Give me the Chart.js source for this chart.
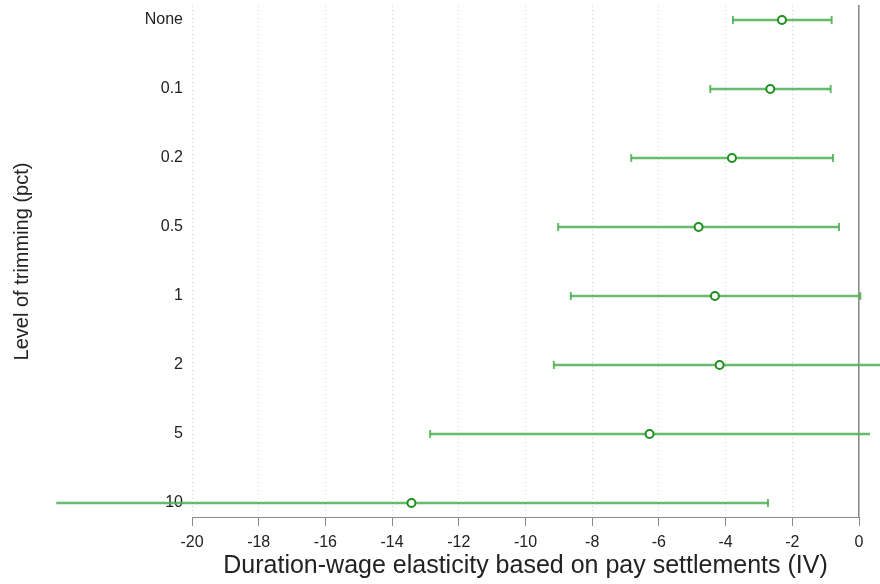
<!DOCTYPE html>
<html>
<head>
<meta charset="utf-8">
<script src="https://cdn.jsdelivr.net/npm/chart.js@4"></script>
<style>
html,body{margin:0;padding:0;background:#fff;}
#wrap{width:880px;height:584px;}
</style>
</head>
<body>
<div id="wrap"><canvas id="c" width="880" height="584"></canvas></div>
<script>
const categories = ['None', '0.1', '0.2', '0.5', '1', '2', '5', '10'];
const estimates = [-2.31, -2.66, -3.81, -4.81, -4.32, -4.18, -6.28, -13.42];
const lowerCI = [-3.78, -4.46, -6.83, -9.02, -8.64, -9.15, -12.86, -24.06];
const upperCI = [-0.82, -0.85, -0.78, -0.60, 0.04, 0.80, 0.32, -2.73];
const xTicks = [-20, -18, -16, -14, -12, -10, -8, -6, -4, -2, 0];

const lineColor = 'rgba(76,175,80,0.85)';
const markColor = '#1f8f1f';
const font = "'Liberation Sans', Arial, sans-serif";

const rangeData = categories.map((c, i) => ({ y: i, x: [lowerCI[i], upperCI[i]] }));
const capData = categories.flatMap((c, i) => [{ x: lowerCI[i], y: i }, { x: upperCI[i], y: i }]);
const pointData = categories.map((c, i) => ({ x: estimates[i], y: i }));

new Chart(document.getElementById('c'), {
  type: 'bar',
  data: {
    datasets: [
      {
        type: 'bar', label: 'CI', data: rangeData, indexAxis: 'y',
        backgroundColor: lineColor, borderWidth: 0, barThickness: 2,
        clip: false, order: 3
      },
      {
        type: 'scatter', label: 'caps', data: capData,
        pointStyle: 'line', rotation: 90, radius: 4, borderWidth: 2,
        borderColor: lineColor, backgroundColor: lineColor,
        clip: false, order: 2
      },
      {
        type: 'scatter', label: 'Estimate', data: pointData,
        pointStyle: 'circle', radius: 4, borderWidth: 2,
        borderColor: markColor, backgroundColor: '#ffffff',
        clip: false, order: 1
      }
    ]
  },
  options: {
    responsive: false,
    animation: false,
    indexAxis: 'y',
    layout: { padding: { top: 6, left: 0, right: 0, bottom: 0 } },
    plugins: { legend: { display: false }, tooltip: { enabled: false } },
    scales: {
      x: {
        type: 'linear', position: 'bottom', min: -20, max: 0,
        afterBuildTicks: (s) => { s.ticks = xTicks.map(v => ({ value: v })); },
        afterFit: (s) => { s.height = 67; s.paddingLeft = 0; s.paddingRight = 0; },
        grid: {
          color: '#d0d0d0', lineWidth: 1, drawTicks: true, tickLength: 9,
          tickColor: '#8a8a8a', tickWidth: 1
        },
        border: { display: true, color: '#8a8a8a', width: 1, dash: [1, 3] },
        ticks: { color: '#222', font: { family: font, size: 16 }, padding: 7, maxRotation: 0 },
        title: {
          display: true, text: 'Duration-wage elasticity based on pay settlements (IV)',
          color: '#222', font: { family: font, size: 25 }, padding: { top: 0, bottom: 3 }
        }
      },
      y: {
        type: 'linear', position: 'left', reverse: true, min: -0.203, max: 7.203,
        offset: false, z: 1,
        afterBuildTicks: (s) => { s.ticks = categories.map((c, i) => ({ value: i })); },
        afterFit: (s) => { s.width = 192; s.paddingTop = 0; s.paddingBottom = 0; },
        grid: { display: false, drawTicks: false, offset: false },
        border: { display: false },
        ticks: {
          color: '#222', font: { family: font, size: 16 }, padding: 9,
          callback: (v) => categories[v]
        },
        title: {
          display: true, text: 'Level of trimming (pct)',
          color: '#222', font: { family: font, size: 20 }, padding: { top: 10, bottom: 0 }
        }
      },
      yRight: {
        type: 'linear', position: 'right', min: 0, max: 1,
        afterFit: (s) => { s.width = 21; s.paddingTop = 0; s.paddingBottom = 0; },
        grid: { display: false, drawOnChartArea: false, drawTicks: false },
        border: { display: true, color: '#8a8a8a', width: 1.5 },
        ticks: { display: false }
      }
    }
  }
});
</script>
</body>
</html>
